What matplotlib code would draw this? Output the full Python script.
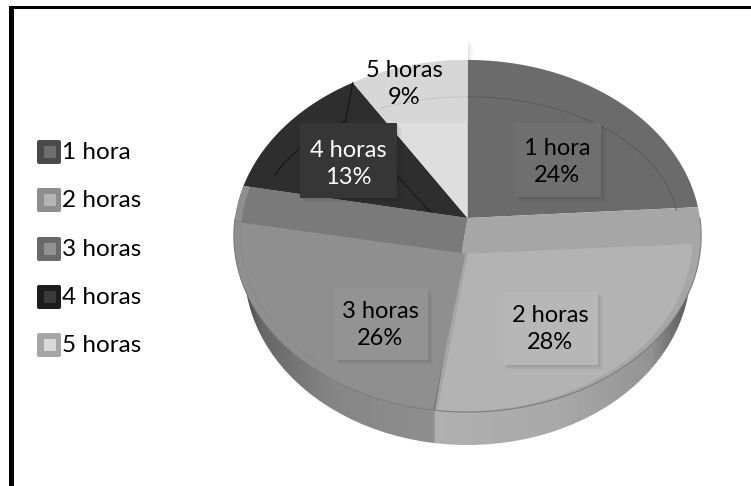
import numpy as np
import matplotlib
matplotlib.use("Agg")
import matplotlib.pyplot as plt
from matplotlib.patches import Polygon, Rectangle, FancyBboxPatch, PathPatch
from matplotlib.path import Path

categories = ["1 hora", "2 horas", "3 horas", "4 horas", "5 horas"]
values = [24, 28, 26, 13, 9]
percent_labels = ["24%", "28%", "26%", "13%", "9%"]

face_colors = ["#6b6b6b", "#b3b3b3", "#8f8f8f", "#2e2e2e", "#dedede"]
band_colors = ["#6b6b6b", "#a6a6a6", "#7a7a7a", "#2e2e2e", "#dedede"]
legend_outer = ["#4a4a4a", "#8e8e8e", "#696969", "#1c1c1c", "#a6a6a6"]
legend_inner = ["#6e6e6e", "#b5b5b5", "#929292", "#3a3a3a", "#d9d9d9"]
label_box = ["#6f6f6f", "#b7b7b7", "#939393", "#363636", "#d7d7d7"]
text_colors = ["black", "black", "black", "white", "black"]
box_rects = [(515, 123, 86, 74), (503, 292, 95, 73), (334, 288, 94, 72), (300, 123, 97, 75), (340, 40, 128, 83)]
text_centers = [(557, 162), (550, 329), (380, 325), (348, 164), (404, 84)]

# perspective of the pie, worked out from the edges in the picture
cx, cy = 467.5, 218
R = 232.4
a, c = -151.9, 0.1023
depth = 33


def project(u, v):
    den = c * v + 1
    return cx + R * u / den, (a * v + cy) / den


def arc(t0, t1, ru=1.0, rv=None, n=120):
    if rv is None:
        rv = ru
    t = np.radians(np.linspace(t0, t1, n))
    if np.ndim(ru) == 0:
        ru = np.full(n, ru)
    if np.ndim(rv) == 0:
        rv = np.full(n, rv)
    return project(ru * np.sin(t), rv * np.cos(t))


plt.rcParams["font.family"] = ["Lato", "DejaVu Sans"]

fig = plt.figure(figsize=(7.51, 4.86), dpi=100)
ax = fig.add_axes([0, 0, 1, 1])

edges = np.cumsum([0] + values) * 3.6

# frame, only left and top are in the picture
ax.add_patch(Rectangle((9, 6), 5, 490, fc="black", ec="none"))
ax.add_patch(Rectangle((9, 6), 750, 3, fc="black", ec="none"))

# side wall, grey ramp clipped to a narrower pie lower down
wall_x, wall_y = arc(0, 360)
wall_pts = np.c_[cx + (wall_x - cx) * 0.955, wall_y + depth]
wall_clip = PathPatch(Path(np.r_[wall_pts, wall_pts[:1]]), fc="none", ec="none", transform=ax.transData)
ax.add_patch(wall_clip)
xs = np.linspace(236, 701, 465)
split = project(np.sin(np.radians(edges[2])), np.cos(np.radians(edges[2])))[0]
ramp_vals = np.interp(xs, [236, 262, 330, split - 1, split, 560, 650, 680, 701],
                      [0.25, 0.40, 0.52, 0.56, 0.69, 0.66, 0.58, 0.40, 0.30])
im = ax.imshow(ramp_vals[None, :], extent=(236, 701, 450, 250), cmap="gray", vmin=0, vmax=1,
               aspect="auto", zorder=1)
im.set_clip_path(wall_clip)
ax.set_xlim(0, 751)
ax.set_ylim(486, 0)
ax.axis("off")

# box of the last label sits behind the pie, only its shadow shows outside
bx, by, bw, bh = box_rects[4]
for k in range(1, 6):
    ax.add_patch(Rectangle((bx + k, by + k), bw, bh, fc="black", alpha=0.02, ec="none", zorder=1.5))
ax.add_patch(Rectangle((bx, by), bw, bh, fc="white", ec="none", zorder=1.6))

# top face
for i in range(5):
    x, y = arc(edges[i], edges[i + 1])
    ax.add_patch(Polygon(np.r_[[[cx, cy]], np.c_[x, y]], fc=band_colors[i], ec="none", zorder=2))

# inside of the last slice is slightly darker where the label box covers it
x, y = arc(edges[4], edges[5])
last_slice = Polygon(np.r_[[[cx, cy]], np.c_[x, y]], fc="none", ec="none", zorder=2.1, transform=ax.transData)
ax.add_patch(last_slice)
patch = ax.add_patch(Rectangle((bx, by), bw, bh, fc=label_box[4], ec="none", zorder=2.2))
patch.set_clip_path(last_slice)

# lighter inner part of the two big slices
x, y = arc(edges[1] + 12.3, edges[2] - 0.5, np.linspace(0.965, 1.0, 120))
ax.add_patch(Polygon(np.r_[[project(0.002, -0.2)], np.c_[x, y]], fc=face_colors[1], ec="none", zorder=3))
x, y = arc(edges[2] + 0.5, edges[3] - 12, 1.0)
ax.add_patch(Polygon(np.r_[[project(-0.008, -0.2)], np.c_[x, y]], fc=face_colors[2], ec="none", zorder=3))
x, y = arc(edges[3] - 12, edges[3], 1.0)
x2, y2 = arc(edges[3], edges[3] - 12, 0.97)
ax.add_patch(Polygon(np.c_[np.r_[x, x2], np.r_[y, y2]], fc=face_colors[2], ec="none", zorder=3))

# rim and the thin bevel lines
x, y = arc(90, 270, 1.0)
ax.plot(x, y, color="#7d7d7d", lw=0.8, zorder=4)
x, y = arc(edges[3] - 12, edges[2] + 30, 0.97)
ax.plot(x, y, color="#878787", lw=0.6, zorder=4)
x, y = arc(edges[0], edges[1], 0.905, 0.75)
ax.plot(x, y, color="#5c5c5c", lw=0.8, zorder=4)
x, y = arc(290, 322, 0.905, 0.75)
ax.plot(x, y, color="#161616", lw=0.8, zorder=4)
corner = project(0.905 * np.sin(np.radians(322)), 0.75 * np.cos(np.radians(322)))
tip = project(np.sin(np.radians(edges[4])), np.cos(np.radians(edges[4])))
foot = project(-0.16, 0.035)
ax.plot([tip[0], corner[0], foot[0]], [tip[1], corner[1], foot[1]], color="#161616", lw=0.8, zorder=4)
x, y = arc(334, 360, 0.905, 0.75)
ax.plot(x, y, color="#c8c8c8", lw=0.8, zorder=4)

# boxes behind the data labels, with a soft shadow
for i in [0, 1, 2, 3, 4]:
    bx, by, bw, bh = box_rects[i]
    if i != 4:
        for k in range(1, 6):
            ax.add_patch(Rectangle((bx + k, by + k), bw, bh, fc="black", alpha=0.02, ec="none", zorder=5))
        ax.add_patch(Rectangle((bx, by), bw, bh, fc=label_box[i], ec="none", zorder=5))
    ax.text(text_centers[i][0], text_centers[i][1], categories[i] + "\n" + percent_labels[i], color=text_colors[i],
            fontsize=17, ha="center", va="center", linespacing=1.38, zorder=6)

# legend
legend_y = [152, 200, 249, 297, 345]
for i in range(5):
    ax.add_patch(FancyBboxPatch((38, legend_y[i] - 11), 22, 22, boxstyle="round,pad=1,rounding_size=2",
                                fc=legend_outer[i], ec="none", zorder=5))
    ax.add_patch(Rectangle((44, legend_y[i] - 6), 12, 12, fc=legend_inner[i], ec="none", zorder=6))
    ax.text(62, legend_y[i], categories[i], fontsize=17.5, ha="left", va="center", color="black", zorder=6)

fig.savefig("out.png", dpi=100)
